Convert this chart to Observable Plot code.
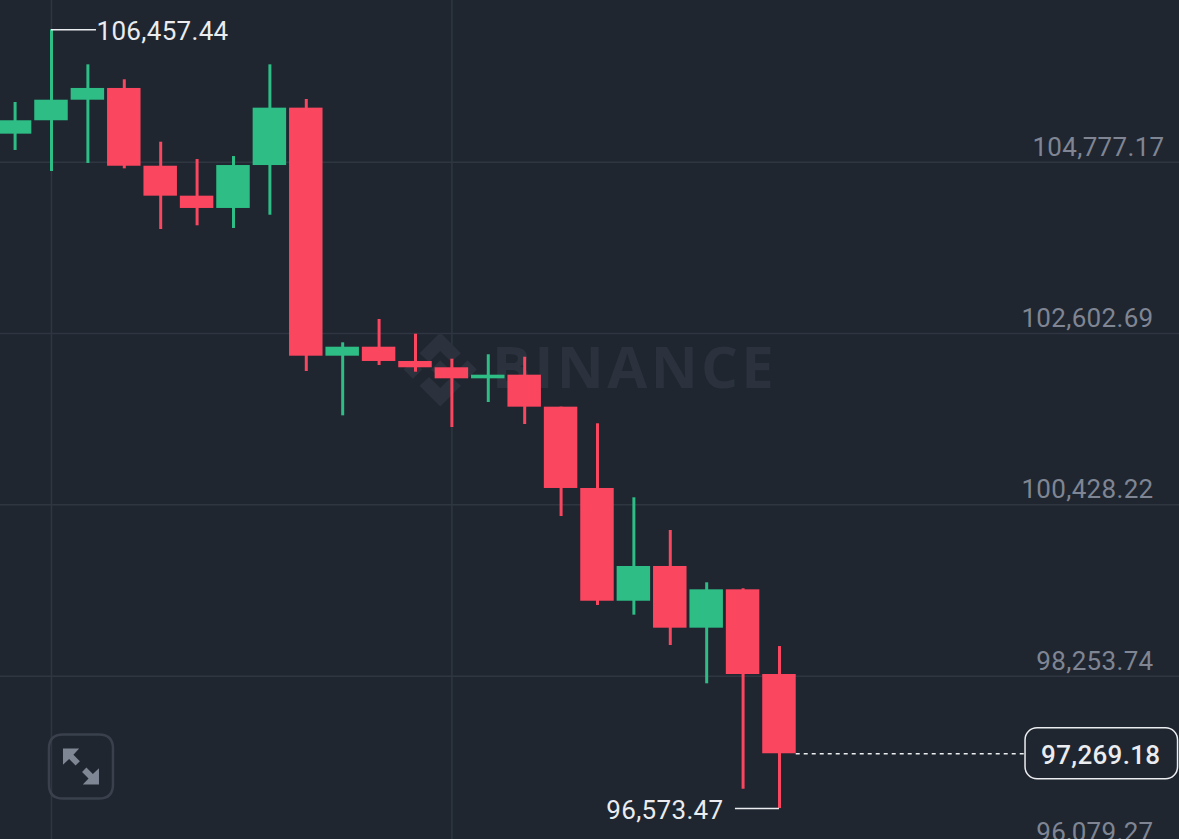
<!DOCTYPE html>
<html>
<head>
<meta charset="utf-8">
<script src="https://cdn.jsdelivr.net/npm/d3@7"></script>
<script src="https://cdn.jsdelivr.net/npm/@observablehq/plot@0.6"></script>
<style>
html,body{margin:0;padding:0;background:#1f2630;overflow:hidden}
svg{display:block}
svg text{letter-spacing:.32px}
</style>
</head>
<body>
<div id="chart"></div>
<script>
const opens  = [105133,105303,105564,105713,104726,104346,104190,104735,105463,102315,102429,102248,102168,102028,102074,101668,100636,99205,99646,98863,99350,98275];
const closes = [105303,105564,105713,104726,104346,104190,104735,105463,102315,102429,102248,102168,102028,102074,101668,100636,99205,99646,98863,99350,98275,97269.18];
const highs  = [105535,106457.44,106013,105823,105031,104811,104849,106013,105573,102485,102781,102594,102277,102333,102302,101668,101457,100518,100103,99439,99363,98630];
const lows   = [104926,104659,104761,104693,103923,103970,103936,104104,102121,101558,102197,102112,101410,101727,101448,100280,99151,99028,98643,98157,96819,96573.47];

const gridPrices = [104777.17,102602.69,100428.22,98253.74,96079.27];
const gridLabels = ["104,777.17","102,602.69","100,428.22","98,253.74","96,079.27"];
const gridSlots  = [1,12];
const highPrice = 106457.44, highLabel = "106,457.44", highSlot = 1, highLeaderEnd = 2.236;
const lowPrice = 96573.47, lowLabel = "96,573.47", lowSlot = 21, lowLeaderEnd = 19.79;
const lastPrice = 97269.18, lastLabel = "97,269.18", lastSlot = 21.46, boxLeft = 27.76, boxRight = 31.95, boxPad = 324;
const BG="#1f2630", GREEN="#2ebd85", RED="#fb4660", GRID="#2f3641", MUTED="#7f8593", WHITE="#eaecef", FONT="Roboto, sans-serif";

const candles = opens.map((o,i)=>({i,open:o,close:closes[i],high:highs[i],low:lows[i]}));
const colour = d => d.close >= d.open ? GREEN : RED;

const logoSymbol = {draw(c,size){
  const r=Math.sqrt(size/Math.PI);
  const poly=p=>{p.forEach(([x,y],k)=>k?c.lineTo(x*r,y*r):c.moveTo(x*r,y*r));c.closePath();};
  const dia=(x,y,h)=>poly([[x,y-h],[x+h,y],[x,y+h],[x-h,y]]);
  poly([[0,-1],[.56,-.44],[.3,-.2],[0,-.5],[-.3,-.2],[-.56,-.44]]);
  poly([[0,1],[.56,.44],[.3,.2],[0,.5],[-.3,.2],[-.56,.44]]);
  dia(0,0,.25); dia(-.74,0,.25); dia(.74,0,.25);
}};
const arrowSymbol = {draw(c,size){
  const r=Math.sqrt(size/Math.PI);
  const poly=p=>{p.forEach(([x,y],k)=>k?c.lineTo(x*r,y*r):c.moveTo(x*r,y*r));c.closePath();};
  poly([[-1,-1],[-.1,-1],[-.42,-.66],[-.06,-.3],[-.3,-.06],[-.66,-.42],[-1,-.1]]);
  poly([[1,1],[.1,1],[.42,.66],[.06,.3],[.3,.06],[.66,.42],[1,.1]]);
}};
const boxSymbol = {draw(c,size){
  const r=Math.sqrt(size/Math.PI), k=.44*r;
  c.moveTo(-r+k,-r);c.lineTo(r-k,-r);c.quadraticCurveTo(r,-r,r,-r+k);
  c.lineTo(r,r-k);c.quadraticCurveTo(r,r,r-k,r);c.lineTo(-r+k,r);
  c.quadraticCurveTo(-r,r,-r,r-k);c.lineTo(-r,-r+k);c.quadraticCurveTo(-r,-r,-r+k,-r);c.closePath();
}};

const watermark = [{i:11.68,p:102146}];
const button = [{i:1.81,p:97107}];

const plot = Plot.plot({
  width:1179,height:839,margin:0,
  style:{background:BG},
  x:{domain:[-0.401,31.99],range:[0,1179],axis:null},
  y:{domain:[96181,106829.4],range:[839,0],axis:null},
  marks:[
    Plot.ruleY(gridPrices,{stroke:GRID,strokeWidth:1.5}),
    Plot.ruleX(gridSlots,{stroke:GRID,strokeWidth:1.5}),
    Plot.dot(watermark,{x:"i",y:"p",r:37,symbol:logoSymbol,fill:"#2b323d",stroke:"none"}),
    Plot.text(["BINANCE"],{x:17.02,y:102146,fontFamily:"'Open Sans', sans-serif",fontWeight:700,fontSize:58,fill:"#2b323d"}),
    Plot.ruleX(candles,{x:"i",y1:"low",y2:"high",stroke:colour,strokeWidth:3}),
    Plot.rect(candles,{x1:d=>d.i-.46,x2:d=>d.i+.46,y1:"open",y2:"close",fill:colour}),
    Plot.ruleY([highPrice],{x1:highSlot,x2:highLeaderEnd,stroke:WHITE,strokeWidth:1.5}),
    Plot.ruleY([lowPrice],{x1:lowLeaderEnd,x2:lowSlot,stroke:WHITE,strokeWidth:1.5}),
    Plot.ruleY([lastPrice],{x1:lastSlot,x2:boxLeft,stroke:WHITE,strokeWidth:1.5,strokeDasharray:"4 4"}),
    Plot.text([highLabel],{x:highLeaderEnd,y:highPrice,dx:0,dy:2,textAnchor:"start",fontFamily:FONT,fontSize:26,fill:WHITE}),
    Plot.text([lowLabel],{x:lowLeaderEnd,y:lowPrice,dx:-12,dy:2,textAnchor:"end",fontFamily:FONT,fontSize:26,fill:WHITE}),
    Plot.text(gridLabels.slice(0,1),{frameAnchor:"right",y:gridPrices.slice(0,1),dx:-15,dy:-15,textAnchor:"end",fontFamily:FONT,fontSize:26,fill:MUTED}),
    Plot.text(gridLabels.slice(1),{frameAnchor:"right",y:gridPrices.slice(1),dx:-26,dy:-15,textAnchor:"end",fontFamily:FONT,fontSize:26,fill:MUTED}),
    Plot.rect([lastPrice],{x1:boxLeft,x2:boxRight,y1:d=>d-boxPad,y2:d=>d+boxPad,rx:12,ry:12,fill:BG,stroke:WHITE,strokeWidth:1.5}),
    Plot.text([lastLabel],{x:(boxLeft+boxRight)/2,y:lastPrice,dx:-1,dy:2,fontFamily:FONT,fontSize:26,fontWeight:500,fill:WHITE}),
    Plot.dot(button,{x:"i",y:"p",r:32,symbol:boxSymbol,fill:"none",stroke:"#3a414d",strokeWidth:2.5}),
    Plot.dot(button,{x:"i",y:"p",r:18,symbol:arrowSymbol,fill:"#7f8694",stroke:"none"})
  ]
});
d3.select(plot).selectAll("text").filter(function(){return this.textContent==="BINANCE"}).style("letter-spacing","3.3px");
document.getElementById("chart").appendChild(plot);
</script>
</body>
</html>
